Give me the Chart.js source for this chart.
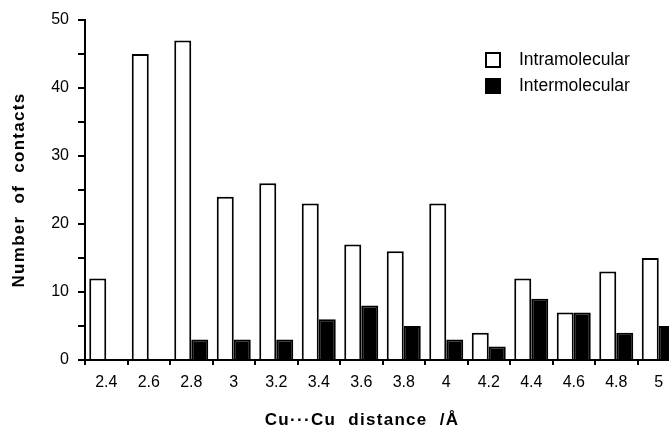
<!DOCTYPE html>
<html>
<head>
<meta charset="utf-8">
<script src="https://cdn.jsdelivr.net/npm/chart.js@4/dist/chart.umd.min.js"></script>
<style>
    html, body { margin: 0; padding: 0; background: #fff; overflow: hidden; }
    canvas { display: block; }
</style>
</head>
<body>
<canvas id="chart" width="700" height="428"></canvas>
<script>
// Data
const distances = ['2.4', '2.6', '2.8', '3', '3.2', '3.4', '3.6', '3.8', '4', '4.2', '4.4', '4.6', '4.8', '5'];
const intramolecular = [12, 45, 47, 24, 26, 23, 17, 16, 23, 4, 12, 7, 13, 15];
const intermolecular = [0, 0, 3, 3, 3, 6, 8, 5, 3, 2, 9, 7, 4, 5];
const yTicks = [0, 10, 20, 30, 40, 50];

const FONT = '"Liberation Sans", Arial, Helvetica, sans-serif';

// Axis titles and legend drawn by hand (spaced bold titles, legend inside plot)
const extras = {
    id: 'extras',
    afterDraw(chart) {
        const ctx = chart.ctx;
        ctx.save();
        ctx.fillStyle = '#000';
        ctx.font = 'bold 17px ' + FONT;
        ctx.letterSpacing = '1.3px';
        ctx.textAlign = 'center';
        ctx.textBaseline = 'middle';
        ctx.fillText('Cu\u00B7\u00B7\u00B7Cu  distance  /\u00C5', 362, 420);
        ctx.translate(19, 190);
        ctx.rotate(-Math.PI / 2);
        ctx.fillText('Number  of  contacts', 0, 0);
        ctx.restore();

        // legend
        ctx.save();
        ctx.font = '17.5px ' + FONT;
        ctx.textAlign = 'left';
        ctx.textBaseline = 'middle';
        chart.data.datasets.forEach((ds, i) => {
            const y = 60 + i * 26;
            ctx.fillStyle = ds.backgroundColor;
            ctx.strokeStyle = '#000';
            ctx.lineWidth = 2;
            ctx.fillRect(486, y - 7, 14, 14);
            ctx.strokeRect(486, y - 7, 14, 14);
            ctx.fillStyle = '#000';
            ctx.fillText(ds.label, 519, y);
        });
        ctx.restore();
    }
};

const ctx = document.getElementById('chart').getContext('2d');
new Chart(ctx, {
    type: 'bar',
    data: {
        labels: distances,
        datasets: [{
            label: 'Intramolecular',
            data: intramolecular,
            backgroundColor: '#ffffff',
            borderColor: '#000000',
            borderWidth: 2
        }, {
            label: 'Intermolecular',
            data: intermolecular,
            backgroundColor: '#000000',
            borderColor: '#000000',
            borderWidth: 2
        }]
    },
    options: {
        responsive: false,
        animation: false,
        layout: { padding: { top: 20, right: 20, left: 0, bottom: 0 } },
        datasets: {
            bar: { barPercentage: 1, categoryPercentage: 0.8 }
        },
        plugins: {
            legend: { display: false },
            tooltip: { enabled: false }
        },
        scales: {
            x: {
                afterFit: scale => { scale.height = 68; },
                border: { color: '#000', width: 2 },
                grid: { drawOnChartArea: false, color: '#000', tickLength: 5, lineWidth: 2 },
                ticks: { color: '#000', padding: 8, font: { family: FONT, size: 16 }, maxRotation: 0 }
            },
            y: {
                min: 0,
                max: 50,
                afterFit: scale => { scale.width = 85; },
                border: { color: '#000', width: 2 },
                grid: { drawOnChartArea: false, color: '#000', tickLength: 7, lineWidth: 2 },
                ticks: {
                    stepSize: 5,
                    color: '#000',
                    padding: 9,
                    font: { family: FONT, size: 16 },
                    callback: v => yTicks.includes(v) ? v : ''
                }
            }
        }
    },
    plugins: [extras]
});
</script>
</body>
</html>
